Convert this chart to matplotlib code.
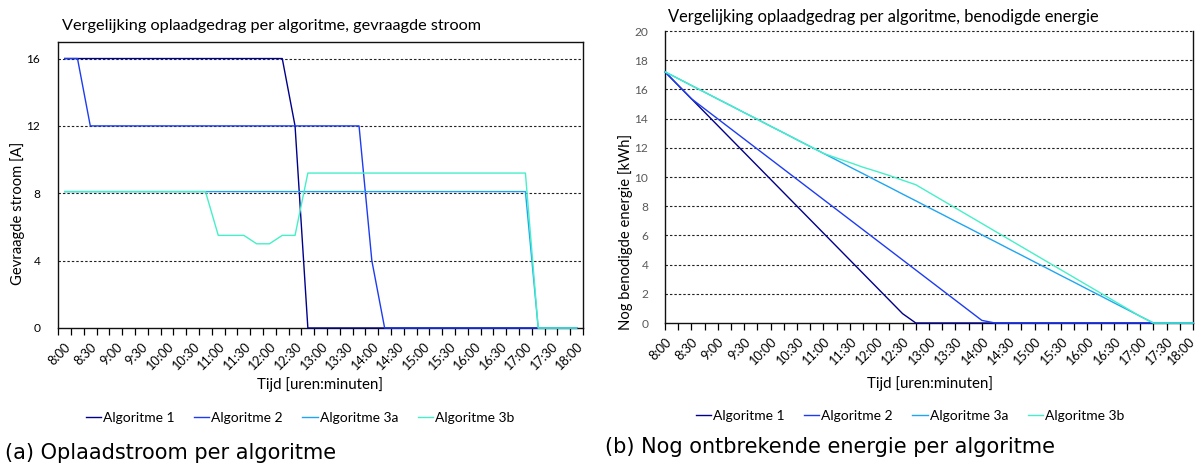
import matplotlib
matplotlib.use("Agg")
import matplotlib.pyplot as plt
import matplotlib.transforms as mtransforms
from matplotlib.lines import Line2D

# 15-minute time slots from 8:00 to 18:00
time_labels = [f"{8 + m // 60}:{m % 60:02d}" for m in range(0, 601, 15)]

series_names = ["Algoritme 1", "Algoritme 2", "Algoritme 3a", "Algoritme 3b"]
series_colors = ["#00008b", "#1d3cf2", "#1fa5f2", "#45f0c8"]

# requested current per slot [A]
current_alg1 = [16] * 18 + [12] + [0] * 22
current_alg2 = [16, 16] + [12] * 22 + [4] + [0] * 16
current_alg3a = [8.1] * 37 + [0] * 4
current_alg3b = ([8.1] * 12 + [5.5, 5.5, 5.5, 5.0, 5.0, 5.5, 5.5]
                 + [9.2] * 18 + [0] * 4)

# remaining energy per slot [kWh]
energy_alg1 = [17.20, 16.28, 15.36, 14.44, 13.52, 12.60, 11.68, 10.76, 9.84,
               8.92, 8.00, 7.08, 6.16, 5.24, 4.32, 3.40, 2.48, 1.56, 0.64,
               0, 0, 0, 0, 0, 0, 0, 0, 0, 0, 0, 0, 0, 0, 0, 0, 0, 0, 0, 0,
               0, 0]
energy_alg2 = [17.20, 16.28, 15.36, 14.67, 13.98, 13.29, 12.60, 11.91, 11.22,
               10.53, 9.84, 9.15, 8.46, 7.77, 7.08, 6.39, 5.70, 5.01, 4.32,
               3.63, 2.94, 2.25, 1.56, 0.87, 0.18, 0, 0, 0, 0, 0, 0, 0, 0,
               0, 0, 0, 0, 0, 0, 0, 0]
energy_alg3a = [17.20, 16.74, 16.27, 15.81, 15.34, 14.88, 14.41, 13.95, 13.48,
                13.02, 12.55, 12.09, 11.62, 11.16, 10.69, 10.23, 9.76, 9.30,
                8.83, 8.37, 7.90, 7.44, 6.97, 6.51, 6.04, 5.58, 5.11, 4.65,
                4.18, 3.72, 3.25, 2.79, 2.32, 1.86, 1.39, 0.93, 0.46, 0,
                0, 0, 0]
energy_alg3b = [17.20, 16.74, 16.27, 15.81, 15.34, 14.88, 14.41, 13.95, 13.48,
                13.02, 12.55, 12.09, 11.62, 11.30, 10.99, 10.67, 10.39, 10.10,
                9.78, 9.47, 8.94, 8.41, 7.88, 7.35, 6.82, 6.29, 5.76, 5.23,
                4.70, 4.17, 3.64, 3.11, 2.58, 2.05, 1.52, 0.99, 0.46, 0,
                0, 0, 0]

currents = [current_alg1, current_alg2, current_alg3a, current_alg3b]
energies = [energy_alg1, energy_alg2, energy_alg3a, energy_alg3b]

W, H = 1198, 466
plt.rcParams["font.family"] = ["Lato", "DejaVu Sans"]

fig = plt.figure(figsize=(W / 100, H / 100), dpi=100)


def px_box(x0, y0, x1, y1):
    return [x0 / W, 1 - y1 / H, (x1 - x0) / W, (y1 - y0) / H]


def fy(y):
    return 1 - y / H


grid_style = dict(color="#222222", linestyle=(0, (2.2, 1.8)), linewidth=0.8)
line_style = dict(linewidth=1.0, clip_on=False, zorder=3)
tick_font = 9.2
n = len(time_labels)
idx = list(range(n))

# ---- (a) requested current ----
ax1 = fig.add_axes(px_box(58.3, 41.7, 583, 328))
for vals, col in zip(currents, series_colors):
    ax1.plot(idx, vals, color=col, **line_style)
ax1.set_xlim(-0.5, n - 0.5)
ax1.set_ylim(0, 17)
for yv in [4, 8, 12, 16]:
    ax1.axhline(yv, zorder=0, **grid_style)
ax1.set_yticks([0, 4, 8, 12, 16])
ax1.tick_params(axis="y", length=0, pad=13, labelsize=8.6, labelcolor="black")
ax1.set_xticks(idx[::2])
ax1.set_xticklabels(time_labels[::2], rotation=45, ha="right",
                    rotation_mode="anchor", fontsize=tick_font)
ax1.set_xticks([i - 0.5 for i in range(n + 1)], minor=True)
ax1.tick_params(axis="x", which="major", length=0, pad=9)
ax1.tick_params(axis="x", which="minor", length=5, width=0.9, direction="out")
for sp in ax1.spines.values():
    sp.set_linewidth(1.0)
    sp.set_color("#111111")
fig.text(18 / W, fy(213), "Gevraagde stroom [A]", rotation=90,
         ha="center", va="center", fontsize=10.6)
fig.text(62 / W, fy(26), "Vergelijking oplaadgedrag per algoritme, gevraagde stroom",
         ha="left", va="center", fontsize=11.7)
fig.text(320 / W, fy(385), "Tijd [uren:minuten]", ha="center",
         va="center", fontsize=10.8)

# ---- (b) remaining energy ----
ax2 = fig.add_axes(px_box(665, 31, 1193, 323))
for vals, col in zip(energies, series_colors):
    ax2.plot(idx, vals, color=col, **line_style)
ax2.set_xlim(0, n - 1)
ax2.set_ylim(0, 20)
for yv in range(2, 21, 2):
    ax2.axhline(yv, zorder=0, clip_on=False, **grid_style)
ax2.set_yticks(range(0, 21, 2))
ax2.tick_params(axis="y", length=0, pad=12, labelsize=8.6, labelcolor="#595959")
ax2.set_xticks(idx[::2])
ax2.set_xticklabels(time_labels[::2], rotation=45, ha="right",
                    rotation_mode="anchor", fontsize=tick_font)
ax2.set_xticks(idx, minor=True)
ax2.tick_params(axis="x", which="both", length=5, width=0.9, direction="out", pad=4)
# keep the last label inside the figure edge
last = ax2.get_xticklabels()[-1]
last.set_transform(last.get_transform()
                   + mtransforms.ScaledTranslation(-5 / 100, 0, fig.dpi_scale_trans))
ax2.spines["top"].set_visible(False)
for name in ["left", "right", "bottom"]:
    ax2.spines[name].set_linewidth(1.0)
    ax2.spines[name].set_color("#111111")
fig.text(626 / W, fy(232), "Nog benodigde energie [kWh]", rotation=90,
         ha="center", va="center", fontsize=10.6)
fig.text(668 / W, fy(17), "Vergelijking oplaadgedrag per algoritme, benodigde energie",
         ha="left", va="center", fontsize=11.9)
fig.text(930 / W, fy(384), "Tijd [uren:minuten]", ha="center",
         va="center", fontsize=10.8)

# legends under each chart
handles = [Line2D([], [], color=c, linewidth=1.0) for c in series_colors]
legend_style = dict(ncol=4, frameon=False, fontsize=10, handlelength=1.1,
                    handletextpad=0.15, columnspacing=1.4, loc="center",
                    borderpad=0, borderaxespad=0)
fig.legend(handles, series_names, bbox_to_anchor=(300 / W, fy(418)),
           **legend_style)
fig.legend(handles, series_names, bbox_to_anchor=(910 / W, fy(416)),
           **legend_style)

# sub-captions
fig.text(5 / W, fy(453), "(a) Oplaadstroom per algoritme", ha="left",
         va="center", fontsize=15, family="DejaVu Sans")
fig.text(605 / W, fy(447), "(b) Nog ontbrekende energie per algoritme",
         ha="left", va="center", fontsize=15, family="DejaVu Sans")

fig.savefig("out.png", dpi=100)
